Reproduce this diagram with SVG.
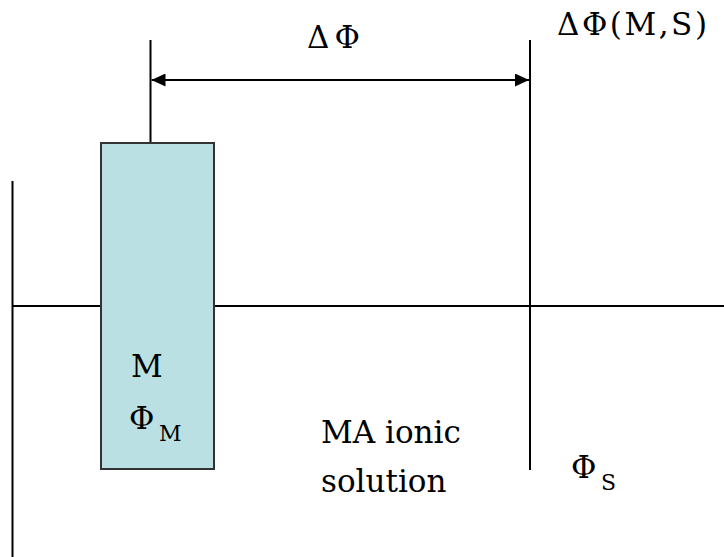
<svg xmlns="http://www.w3.org/2000/svg" width="724" height="557" viewBox="0 0 724 557">
  <style>
    .ln { stroke: #000; stroke-width: 2; fill: none; }
    .tx { font-family: 'DejaVu Serif', 'Liberation Serif', serif; font-size: 31px; fill: #000; }
    .sub { font-size: 22px; }
  </style>
  <defs>
    <marker id="ah" viewBox="0 0 14 13" refX="14" refY="6.5" markerWidth="14" markerHeight="13" markerUnits="userSpaceOnUse" orient="auto-start-reverse">
      <path d="M0,0 L14,6.5 L0,13 Z" fill="#000"/>
    </marker>
  </defs>
  <rect width="724" height="557" fill="#fff"/>
  <g id="connectors">
    <line class="ln" x1="12.5" y1="181" x2="12.5" y2="557"/>
    <line class="ln" x1="12" y1="306" x2="724" y2="306"/>
    <line class="ln" x1="150.5" y1="40" x2="150.5" y2="143"/>
    <line class="ln" x1="530" y1="40" x2="530" y2="470"/>
    <line class="ln" x1="151.5" y1="80" x2="529" y2="80" marker-start="url(#ah)" marker-end="url(#ah)"/>
  </g>
  <g id="metal">
    <rect x="101" y="143" width="113" height="326" fill="#BBE0E3" stroke="#333" stroke-width="2"/>
    <text class="tx" x="131" y="377">M</text>
    <text class="tx" x="129" y="429">Φ<tspan class="sub" x="159" y="441">M</tspan></text>
  </g>
  <g id="delta-phi">
    <text class="tx" x="307" y="48" textLength="53">ΔΦ</text>
  </g>
  <g id="delta-phi-ms">
    <text class="tx" x="557" y="35" textLength="150">ΔΦ(M,S)</text>
  </g>
  <g id="solution">
    <text class="tx" x="321" y="443">MA ionic</text>
    <text class="tx" x="321" y="492">solution</text>
  </g>
  <g id="phi-s">
    <text class="tx" x="571" y="478">Φ<tspan class="sub" x="601" y="490">S</tspan></text>
  </g>
</svg>
